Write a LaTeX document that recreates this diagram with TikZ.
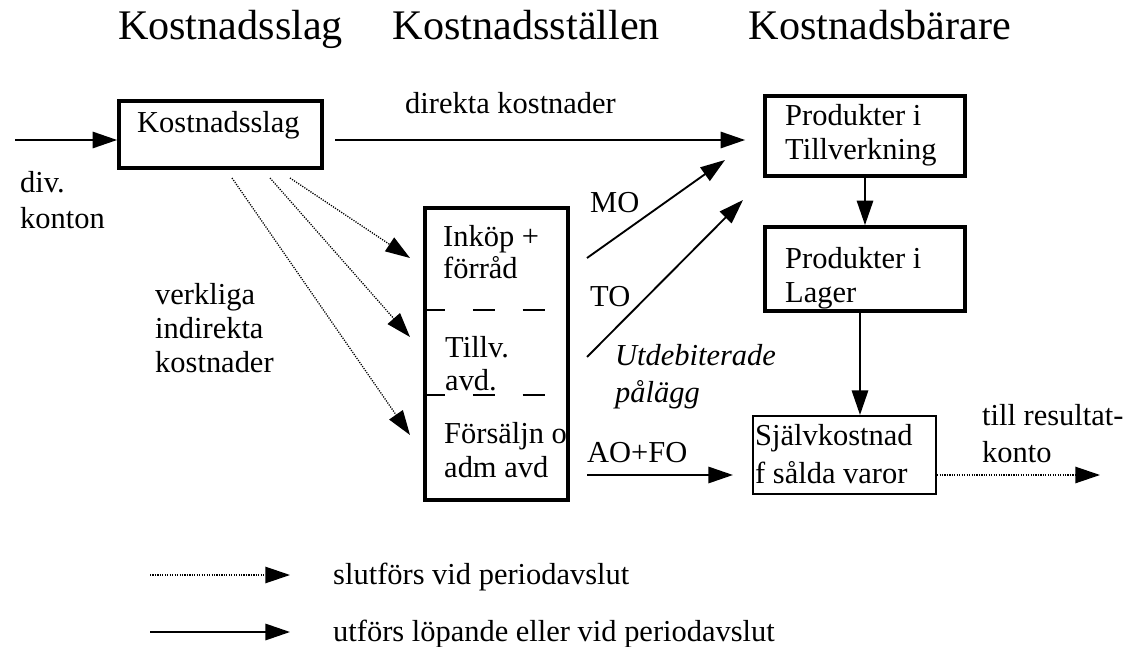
\documentclass[tikz,border=0pt]{standalone}
\usepackage{fontspec}
\setmainfont{Liberation Serif}
\usetikzlibrary{arrows.meta,calc}
\begin{document}
\begin{tikzpicture}[x=0.03cm,y=-0.03cm,
  tip/.style={-{Triangle[length=21pt,width=14pt]}},
  arr/.style={tip,line width=1.6pt},
  dots/.style={tip,line width=1.1pt,dash pattern=on 1pt off 1.1pt},
  box/.style={draw,line width=3.2pt,inner sep=0pt},
  thinbox/.style={draw,line width=1.8pt,inner sep=0pt},
  sep/.style={line width=1.6pt,dash pattern=on 19pt off 23.5pt},
  txt/.style={inner sep=0pt,anchor=base west,align=left,
    font=\fontsize{26}{29}\selectfont},
  head/.style={inner sep=0pt,anchor=base,font=\fontsize{36}{40}\selectfont}]
\useasboundingbox (0,0) rectangle (1138,647);

% column headings
\node[head] (h1) at (230.5,40) {Kostnadsslag};
\node[head] (h2) at (526.5,40) {Kostnadsställen};
\node[head] (h3) at (880,40) {Kostnadsbärare};

% boxes
\node[box,minimum width=6.09cm,minimum height=2.01cm] (kslag) at (220.5,134.5) {};
\node[box,minimum width=6.0cm,minimum height=2.4cm] (tillv) at (865,136) {};
\node[box,minimum width=6.0cm,minimum height=2.52cm] (lager) at (865,269) {};
\node[thinbox,minimum width=5.49cm,minimum height=2.34cm] (sjalv) at (844.5,455) {};
\node[box,minimum width=4.29cm,minimum height=8.76cm] (mid) at (496.5,354) {};

% texts inside boxes (anchored at the baseline of the last line)
\node[txt] (tk) at (137,132) {Kostnadsslag};
\node[txt] (tt) at (785,159) {Produkter i\\Tillverkning};
\node[txt] (tl) at (785,302) {Produkter i\\Lager};
\node[txt,font=\fontsize{26}{32}\selectfont] (ts) at (755,483) {Självkostnad\\f sålda varor};
\node[txt,font=\fontsize{26}{27}\selectfont] (ti) at (443,278) {Inköp +\\förråd};
\node[txt,font=\fontsize{26}{28}\selectfont] (tv) at (445,390) {Tillv.\\avd.};
\node[txt,font=\fontsize{26}{29}\selectfont] (tf) at (444,477) {Försäljn o\\adm avd};

% department separators
\draw[sep] (mid.west |- 0,310) -- ++(125,0);
\draw[sep] (mid.west |- 0,395) -- ++(125,0);

% free labels
\node[txt,font=\fontsize{26}{30}\selectfont] (ldiv) at (20,228) {div.\\konton};
\node[txt] (ldir) at (405,113) {direkta kostnader};
\node[txt] (lver) at (155,372) {verkliga\\indirekta\\kostnader};
\node[txt] (lmo) at (590,212) {MO};
\node[txt] (lto) at (590,306) {TO};
\node[txt,font=\fontsize{26}{31}\selectfont\itshape] (lutd) at (615,402) {Utdebiterade\\pålägg};
\node[txt] (lao) at (587,462) {AO+FO};
\node[txt,font=\fontsize{26}{31}\selectfont] (lres) at (982,462) {till resultat-\\konto};

% connectors
\coordinate (in) at (15,140);
\draw[arr] (in) -- (in -| kslag.west);
\draw[arr,shorten <=6\pgflinewidth] (kslag.east |- in) -- ($(tillv.west |- in)+(-18,0)$);

\coordinate (d1) at (290,178);
\coordinate (d2) at (270,178);
\coordinate (d3) at (232,178);
\draw[dots] (d1) -- (410,258);
\draw[dots] (d2) -- (410,337);
\draw[dots] (d3) -- (410,435);

\coordinate (mo0) at (587,258);
\coordinate (to0) at (587,357);
\coordinate (ao0) at (587,475);
\draw[arr] (mo0) -- (725,160);
\draw[arr] (to0) -- (743,200);
\draw[arr] (ao0) -- ($(sjalv.west |- ao0)+(-19,0)$);

\draw[arr] (tillv.south) -- (lager.north);
\draw[arr] ([xshift=-5*0.03cm]lager.south) -- ([xshift=-5*0.03cm]lager.south |- sjalv.north);

\coordinate (out) at (1100,475);
\draw[dots] (sjalv.east |- out) -- (out);

% legend
\coordinate (k1) at (150,575);
\coordinate (k2) at (150,632);
\draw[dots] (k1) -- ++(140,0);
\draw[arr] (k2) -- ++(140,0);
\node[txt] (lk1) at (333,584) {slutförs vid periodavslut};
\node[txt] (lk2) at (333,641) {utförs löpande eller vid periodavslut};
\end{tikzpicture}
\end{document}
